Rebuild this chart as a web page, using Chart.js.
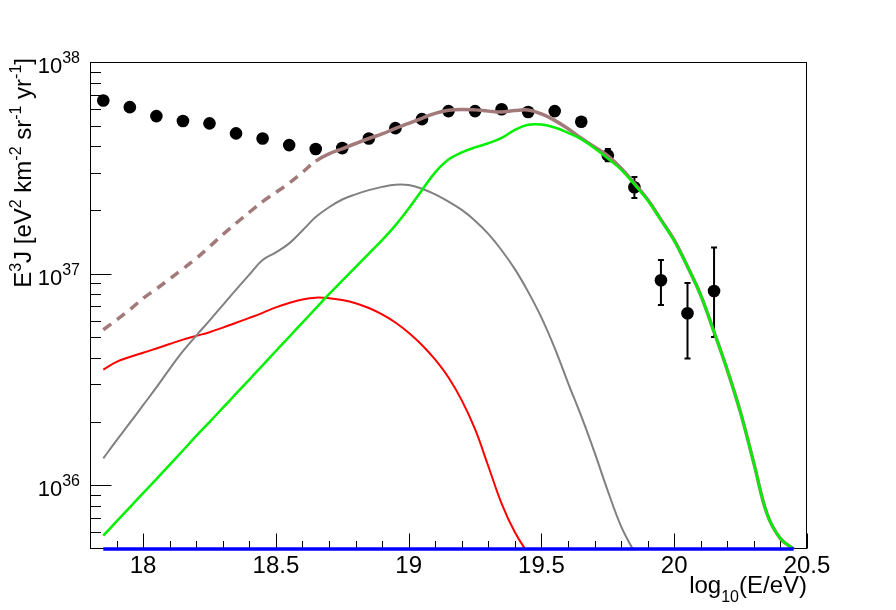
<!DOCTYPE html>
<html><head><meta charset="utf-8">
<script src="https://cdn.jsdelivr.net/npm/chart.js@4.4.1/dist/chart.umd.min.js"></script>
<style>html,body{margin:0;padding:0;background:#fff;}#wrap{width:896px;height:610px;position:relative;}</style>
</head><body><div id="wrap"><canvas id="c"></canvas></div>
<script>
// ---- data ----
const curveX = [17.85,17.90,17.95,18.00,18.05,18.10,18.15,18.20,18.25,18.30,18.35,18.40,18.45,18.50,18.55,18.60,18.65,18.70,18.75,18.80,18.85,18.90,18.95,19.00,19.05,19.10,19.15,19.20,19.25,19.30,19.35,19.40,19.45,19.50,19.55,19.60,19.65,19.70,19.75,19.80,19.85,19.90,19.95,20.00,20.05,20.10,20.15,20.20,20.25,20.30,20.35,20.40,20.45];
const redY = [3.52e36,3.83e36,4.04e36,4.23e36,4.43e36,4.65e36,4.88e36,5.08e36,5.29e36,5.56e36,5.86e36,6.18e36,6.53e36,6.93e36,7.27e36,7.55e36,7.70e36,7.66e36,7.50e36,7.25e36,6.88e36,6.42e36,5.88e36,5.26e36,4.60e36,3.92e36,3.23e36,2.52e36,1.84e36,1.23e36,8.2e35,6.0e35,4.75e35,3.8e35,null,null,null,null,null,null,null,null,null,null,null,null,null,null,null,null,null,null,null];
const grayY = [1.34e36,1.63e36,1.97e36,2.39e36,2.9e36,3.55e36,4.3e36,5.1e36,6.0e36,7.1e36,8.4e36,9.9e36,1.16e37,1.26e37,1.39e37,1.6e37,1.85e37,2.06e37,2.24e37,2.37e37,2.48e37,2.57e37,2.63e37,2.62e37,2.52e37,2.37e37,2.19e37,2.00e37,1.78e37,1.54e37,1.29e37,1.05e37,8.2e36,6.2e36,4.45e36,3.05e36,2.12e36,1.43e36,9.4e35,6.4e35,4.85e35,3.8e35,null,null,null,null,null,null,null,null,null,null,null];
const greenY = [5.78e35,6.75e35,7.87e35,9.19e35,1.07e36,1.25e36,1.46e36,1.71e36,1.99e36,2.32e36,2.71e36,3.16e36,3.69e36,4.31e36,5.03e36,5.87e36,6.85e36,8.0e36,9.27e36,1.074e37,1.245e37,1.44e37,1.69e37,2.03e37,2.48e37,3.01e37,3.46e37,3.74e37,3.95e37,4.13e37,4.38e37,4.78e37,5.05e37,5.06e37,4.90e37,4.63e37,4.32e37,3.91e37,3.50e37,3.10e37,2.64e37,2.22e37,1.79e37,1.43e37,1.08e37,7.9e36,5.3e36,3.5e36,2.2e36,1.27e36,7.3e35,5.6e35,5.0e35];
const totalY = [5.43e36,6.04e36,6.76e36,7.64e36,8.47e36,9.44e36,1.054e37,1.18e37,1.34e37,1.53e37,1.73e37,1.95e37,2.19e37,2.42e37,2.68e37,3.01e37,3.40e37,3.68e37,3.89e37,4.12e37,4.35e37,4.57e37,4.86e37,5.13e37,5.42e37,5.72e37,5.91e37,5.97e37,5.94e37,5.86e37,5.80e37,5.90e37,5.93e37,5.68e37,5.30e37,4.84e37,4.36e37,3.97e37,3.60e37,3.15e37,2.67e37,2.24e37,1.80e37,1.44e37,1.08e37,7.9e36,5.3e36,3.5e36,2.2e36,1.27e36,7.3e35,5.6e35,5.0e35];
const totalDashedUpTo = 18.65;
const baseX = [17.85, 20.45];
const baseY = [5e35, 5e35];
const dataX = [17.85,17.95,18.05,18.15,18.25,18.35,18.45,18.55,18.65,18.75,18.85,18.95,19.05,19.15,19.25,19.35,19.45,19.55,19.65,19.75,19.85,19.95,20.05,20.15];
const dataY = [6.58e37,6.12e37,5.55e37,5.26e37,5.13e37,4.60e37,4.35e37,4.05e37,3.88e37,3.92e37,4.35e37,4.87e37,5.37e37,5.86e37,5.86e37,5.98e37,5.80e37,5.86e37,5.22e37,3.62e37,2.56e37,9.31e36,6.50e36,8.28e36];
const dataErrLow  = [null,null,null,null,null,null,null,null,null,null,null,null,null,null,null,null,null,null,null,3.40e37,2.28e37,7.10e36,3.97e36,5.02e36];
const dataErrHigh = [null,null,null,null,null,null,null,null,null,null,null,null,null,null,null,null,null,null,null,3.88e37,2.86e37,1.16e37,9.04e36,1.33e37];
const xMajorTicks = [18,18.5,19,19.5,20,20.5];
const xTickLabels = ['18','18.5','19','19.5','20','20.5'];
const xMinorTicks = [17.9,18.1,18.2,18.3,18.4,18.6,18.7,18.8,18.9,19.1,19.2,19.3,19.4,19.6,19.7,19.8,19.9,20.1,20.2,20.3,20.4];
const yMajorTicks = [1e36,1e37,1e38];
const yTickExponents = ['36','37','38'];
const yMinorTicks = [6e35,7e35,8e35,9e35,2e36,3e36,4e36,5e36,6e36,7e36,8e36,9e36,2e37,3e37,4e37,5e37,6e37,7e37,8e37,9e37];
const xTitleParts = [['log',0],['10',-1],['(E/eV)',0]];
const yTitleParts = [['E',0],['3',1],['J [eV',0],['2',1],[' km',0],['-2',1],[' sr',0],['-1',1],[' yr',0],['-1',1],[']',0]];

const FONT = '"Liberation Sans", Arial, Helvetica, sans-serif';
function pts(xs, ys){ const o=[]; for(let i=0;i<xs.length;i++){ if(ys[i]!==null) o.push({x:xs[i], y:ys[i]}); } return o; }

const framePlugin = {
  id: 'frame',
  beforeDatasetsDraw(chart){
    const {ctx, chartArea:a, scales:{x, y}} = chart;
    ctx.save();
    ctx.strokeStyle = '#000'; ctx.lineWidth = 1;
    ctx.strokeRect(Math.round(a.left)+0.5, Math.round(a.top)+0.5, Math.round(a.right-a.left)-1, Math.round(a.bottom-a.top)-1);
    const bot = Math.round(a.bottom)-0.5, lef = Math.round(a.left)+0.5;
    ctx.beginPath();
    xMajorTicks.forEach(v=>{ const px=Math.round(x.getPixelForValue(v))+0.5; ctx.moveTo(px,bot); ctx.lineTo(px,bot-15); });
    xMinorTicks.forEach(v=>{ const px=Math.round(x.getPixelForValue(v))+0.5; ctx.moveTo(px,bot); ctx.lineTo(px,bot-7.5); });
    yMajorTicks.forEach(v=>{ const py=Math.round(y.getPixelForValue(v))+0.5; ctx.moveTo(lef,py); ctx.lineTo(lef+21,py); });
    yMinorTicks.forEach(v=>{ const py=Math.round(y.getPixelForValue(v))+0.5; ctx.moveTo(lef,py); ctx.lineTo(lef+10.5,py); });
    ctx.stroke();
    // error bars
    ctx.lineWidth = 2;
    ctx.beginPath();
    for (let i=0;i<dataX.length;i++){
      if (dataErrLow[i]===null) continue;
      const px = x.getPixelForValue(dataX[i]);
      const p1 = y.getPixelForValue(dataErrHigh[i]);
      const p2 = y.getPixelForValue(dataErrLow[i]);
      ctx.moveTo(px,p1); ctx.lineTo(px,p2);
      ctx.moveTo(px-3,p1); ctx.lineTo(px+3,p1);
      ctx.moveTo(px-3,p2); ctx.lineTo(px+3,p2);
    }
    ctx.stroke();
    ctx.restore();
  },
  afterDraw(chart){
    const {ctx, chartArea:a, scales:{x, y}} = chart;
    ctx.save();
    ctx.fillStyle = '#000';
    ctx.font = '24px ' + FONT; ctx.textAlign = 'center'; ctx.textBaseline = 'alphabetic';
    xMajorTicks.forEach((v,i)=>{ ctx.fillText(xTickLabels[i], x.getPixelForValue(v), 573); });
    ctx.textAlign = 'left';
    yMajorTicks.forEach((v,i)=>{
      const py = y.getPixelForValue(v);
      ctx.font = '22px ' + FONT; const w1 = ctx.measureText('10').width;
      ctx.font = '16px ' + FONT; const w2 = ctx.measureText(yTickExponents[i]).width;
      const x0 = 80 - w1 - w2;
      ctx.font = '22px ' + FONT; ctx.fillText('10', x0, py + 11);
      ctx.font = '16px ' + FONT; ctx.fillText(yTickExponents[i], x0 + w1, py + 1);
    });
    let tw = 0;
    xTitleParts.forEach(p=>{ ctx.font = (p[1]?'16px ':'24px ')+FONT; tw += ctx.measureText(p[0]).width; });
    let cx = Math.round(a.right) - tw;
    xTitleParts.forEach(p=>{ ctx.font = (p[1]?'16px ':'24px ')+FONT; ctx.fillText(p[0], cx, 593 + (p[1]<0?9:0)); cx += ctx.measureText(p[0]).width; });
    tw = 0;
    yTitleParts.forEach(p=>{ ctx.font = (p[1]?'16px ':'24px ')+FONT; tw += ctx.measureText(p[0]).width; });
    ctx.translate(31, 58 + tw);
    ctx.rotate(-Math.PI/2);
    cx = 0;
    yTitleParts.forEach(p=>{ ctx.font = (p[1]?'16px ':'24px ')+FONT; ctx.fillText(p[0], cx, p[1]>0?-10:0); cx += ctx.measureText(p[0]).width; });
    ctx.restore();
  }
};

const lineBase = { type:'line', pointRadius:0, fill:false, tension:0.4, borderCapStyle:'butt', borderJoinStyle:'round' };

new Chart(document.getElementById('c'), {
  data: {
    datasets: [
      Object.assign({}, lineBase, { label:'base', data: pts(baseX, baseY), borderColor:'#0000ff', borderWidth:3.5, order:0, clip:false, tension:0 }),
      Object.assign({}, lineBase, { label:'green', data: pts(curveX, greenY), borderColor:'#00f000', borderWidth:2.5, order:1 }),
      Object.assign({}, lineBase, { label:'total', data: pts(curveX, totalY), borderColor:'#a27a7a', borderWidth:3.5, order:2,
        segment: { borderDash: c => (c.p1.parsed.x <= totalDashedUpTo + 1e-6 ? [10,7] : undefined) } }),
      Object.assign({}, lineBase, { label:'gray', data: pts(curveX, grayY), borderColor:'#808080', borderWidth:2, order:3 }),
      Object.assign({}, lineBase, { label:'red', data: pts(curveX, redY), borderColor:'#ff0000', borderWidth:2, order:4 }),
      { type:'line', label:'data', data: pts(dataX, dataY), showLine:false, pointRadius:6.3, pointHoverRadius:6.3,
        pointBackgroundColor:'#000', pointBorderColor:'#000', pointBorderWidth:0, order:5 }
    ]
  },
  options: {
    responsive:true, maintainAspectRatio:false, animation:false,
    layout: { padding: { left:90, right:89, top:62, bottom:61 } },
    plugins: { legend:{display:false}, tooltip:{enabled:false} },
    events: [],
    scales: {
      x: { type:'linear', min:17.8, max:20.5, display:false },
      y: { type:'logarithmic', min:5e35, max:1e38, display:false }
    }
  },
  plugins: [framePlugin]
});
</script>
</body></html>
